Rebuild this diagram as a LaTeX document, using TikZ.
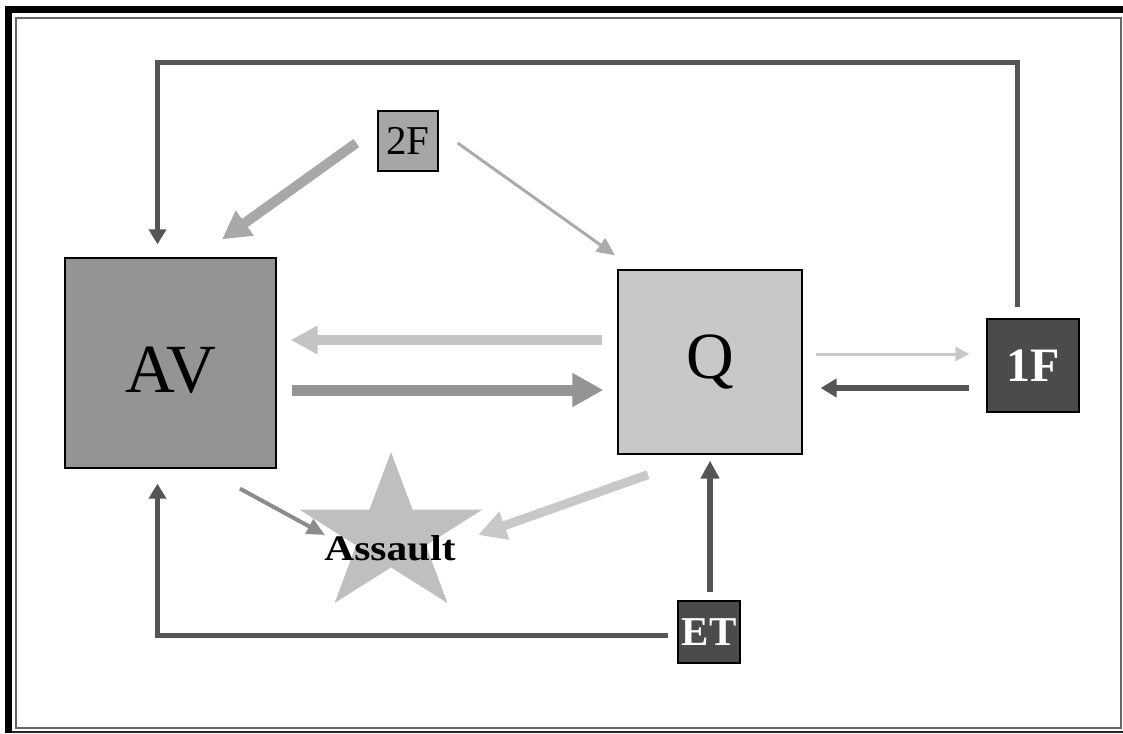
\documentclass[tikz,border=0pt]{standalone}
\usepackage{fontspec}
\setmainfont{Liberation Serif}
\usepackage{graphicx}
\usetikzlibrary{arrows.meta}
\definecolor{darkln}{HTML}{555555}
\definecolor{darkbox}{HTML}{4B4B4B}
\definecolor{avfill}{HTML}{949494}
\definecolor{qfill}{HTML}{C8C8C8}
\definecolor{ffill}{HTML}{A6A6A6}
\definecolor{starfill}{HTML}{BFBFBF}
\tikzset{
  box/.style={draw=black, line width=1.3pt, inner sep=0pt, anchor=center},
  fb/.style={draw=darkln, line width=5pt, -{Triangle[length=15pt,width=17pt]}},
}
\begin{document}
\begin{tikzpicture}[x=1pt,y=-1pt]
\useasboundingbox (0,0) rectangle (1123,733);
% frame
\fill[black] (5,6) rectangle (1123,13);
\fill[black] (5,6) rectangle (12,733);
\fill[black!85] (12,731) rectangle (1123,733);
\draw[black!60, line width=2pt] (16,18) rectangle (1121,728);
% star
\fill[starfill] (391,452) -- (369.4,509.7) -- (299.7,509.7) -- (356.1,545.4) -- (334.6,603)
  -- (391,567.4) -- (447.4,603) -- (425.9,545.4) -- (482.3,509.7) -- (412.6,509.7) -- cycle;
\coordinate (SC) at (390,548);
% boxes
\node[box, fill=avfill, minimum width=211pt, minimum height=210pt, font=\fontsize{69}{69}\selectfont] (AV) at (170.5,363) {\rule{0pt}{61pt}AV};
\node[box, fill=qfill, minimum width=184pt, minimum height=184pt, font=\fontsize{66}{66}\selectfont] (Q) at (710,362) {Q};
\node[box, fill=ffill, minimum width=60pt, minimum height=60pt, font=\fontsize{41}{41}\selectfont] (F2) at (408,141) {2F};
\node[box, fill=darkbox, text=white, minimum width=92pt, minimum height=93pt, font=\fontsize{48}{48}\selectfont\bfseries] (F1) at (1033,365.5) {1F};
\node[box, fill=darkbox, text=white, minimum width=62pt, minimum height=62pt, font=\fontsize{41}{41}\selectfont\bfseries] (ET) at (709,632) {ET};
% corner coordinates
\coordinate (tl) at (157.5,63);
\coordinate (tr) at (1017,63);
\coordinate (bl) at (157.5,635);
% feedback loops
\draw[fb] ([xshift=-16pt,yshift=11pt]F1.north) -- (tr) -- (tl) -- ([xshift=-13pt,yshift=13pt]AV.north);
\draw[fb] ([xshift=-9pt,yshift=-3pt]ET.west) -- (bl) -- ([xshift=-13pt,yshift=-15pt]AV.south);
\draw[draw=darkln, line width=6pt, -{Triangle[length=18pt,width=18pt]}] ([xshift=1pt,yshift=8pt]ET.north) -- ([yshift=-6pt]Q.south);
\draw[draw=darkln, line width=6pt, -{Triangle[length=16pt,width=18pt]}] ([xshift=-17pt,yshift=-22.5pt]F1.west) -- ([xshift=18pt,yshift=-26pt]Q.east);
\draw[draw=qfill, line width=3pt, -{Triangle[length=14pt,width=14pt]}] ([xshift=13pt,yshift=8pt]Q.east) -- ([xshift=-17pt,yshift=11.5pt]F1.west);
% AV <-> Q
\draw[draw=qfill!98!black, line width=10pt, -{Triangle[length=27pt,width=27pt]}] ([xshift=-15pt,yshift=22pt]Q.west) -- ([xshift=14pt,yshift=23pt]AV.east);
\draw[draw=avfill, line width=11pt, -{Triangle[length=31pt,width=32pt]}] ([xshift=15pt,yshift=-27pt]AV.east) -- ([xshift=-14pt,yshift=-28pt]Q.west);
% 2F arrows
\draw[draw=black!34, line width=10pt, -{Triangle[length=28pt,width=29pt]}] ([xshift=-21pt,yshift=-2pt]F2.west) -- ([xshift=51.5pt,yshift=18pt]AV.north);
\draw[draw=black!33, line width=3pt, -{Triangle[length=18pt,width=16pt]}] ([xshift=19pt,yshift=-2pt]F2.east) -- ([xshift=-95pt,yshift=14pt]Q.north);
% to Assault
\draw[draw=black!45, line width=4pt, -{Triangle[length=18pt,width=16pt]}] ([xshift=69.5pt,yshift=-20pt]AV.south) -- ([xshift=-65pt,yshift=13pt]SC);
\draw[draw=qfill, line width=9pt, -{Triangle[length=28pt,width=28pt]}] ([xshift=-62pt,yshift=-20pt]Q.south) -- ([xshift=88pt,yshift=13pt]SC);
% star label
\node[font=\fontsize{36}{36}\selectfont\bfseries, inner sep=0pt] (AS) at (SC) {\scalebox{1.15}[1]{Assault}};
\end{tikzpicture}
\end{document}
